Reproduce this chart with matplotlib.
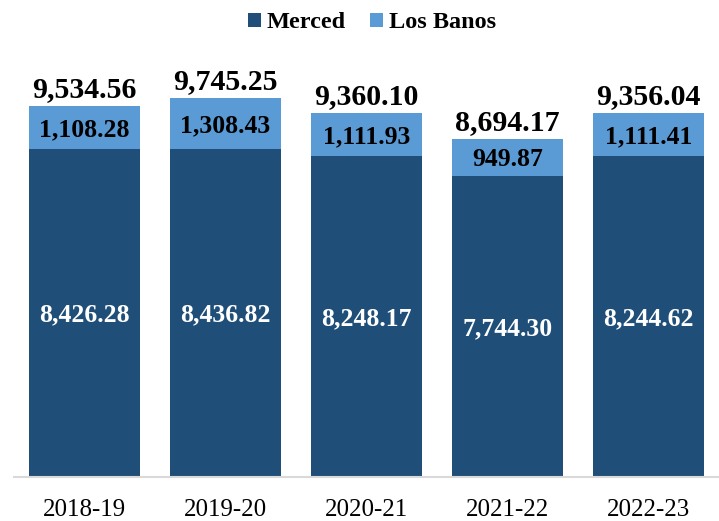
import matplotlib
matplotlib.use("Agg")
import matplotlib.pyplot as plt
import numpy as np

years = ["2018-19", "2019-20", "2020-21", "2021-22", "2022-23"]
merced = [8426.28, 8436.82, 8248.17, 7744.30, 8244.62]
los_banos = [1108.28, 1308.43, 1111.93, 949.87, 1111.41]
totals = [9534.56, 9745.25, 9360.10, 8694.17, 9356.04]

c_merced = "#1F4E79"
c_lb = "#5B9BD5"
font = "Liberation Serif"

fig = plt.figure(figsize=(7.19, 5.21), dpi=100)
ax = fig.add_axes([14/719, 44/521, 705/719, 428/521])
x = np.arange(len(years))
w = 0.79
b1 = ax.bar(x, merced, w, color=c_merced, label="Merced")
b2 = ax.bar(x, los_banos, w, bottom=merced, color=c_lb, label="Los Banos")

for i in range(len(years)):
    ax.annotate(f"{merced[i]:,.2f}", (x[i], merced[i] / 2), xytext=(0, -6.2),
                textcoords="offset points", ha="center", va="baseline",
                color="white", fontsize=18.5, fontweight="bold", family=font)
    ax.annotate(f"{los_banos[i]:,.2f}", (x[i], merced[i] + los_banos[i] / 2), xytext=(0, -6.2),
                textcoords="offset points", ha="center", va="baseline",
                color="black", fontsize=18.5, fontweight="bold", family=font)
    ax.annotate(f"{totals[i]:,.2f}", (x[i], merced[i] + los_banos[i]), xytext=(0, 6.5),
                textcoords="offset points", ha="center", va="baseline",
                color="black", fontsize=21.5, fontweight="bold", family=font)

ax.set_xlim(-0.5, 4.5)
ax.set_ylim(0, 11000)
ax.set_xticks(x)
ax.set_xticklabels(years, family=font, fontsize=18)
ax.tick_params(axis="x", length=0, pad=16)
ax.set_yticks([])
for s in ["top", "right", "left"]:
    ax.spines[s].set_visible(False)
ax.spines["bottom"].set_color("#D9D9D9")
ax.spines["bottom"].set_linewidth(1.5)

leg = fig.legend(handles=[b1, b2], labels=["Merced", "Los Banos"], loc="center",
                 bbox_to_anchor=(372/719, 1 - 23/521), ncol=2, frameon=False,
                 prop={"family": font, "weight": "bold", "size": 17.5},
                 handlelength=0.53, handleheight=0.53, handletextpad=0.25, columnspacing=1.0)

fig.savefig("out.png", dpi=100)
